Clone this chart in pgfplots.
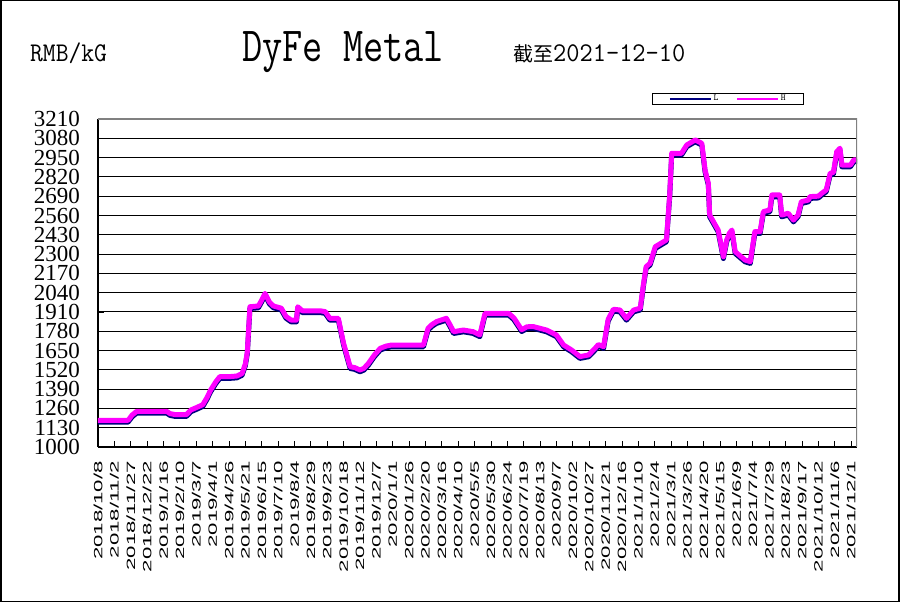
\documentclass[border=0pt]{standalone}
\usepackage{fontspec}
\usepackage{graphicx}
\usepackage{pgfplots}
\usepackage{pgfplotstable}
\pgfplotsset{compat=1.18}
\setmainfont{Liberation Serif}
\newfontfamily\labfont[FakeStretch=1.85]{Liberation Sans}
\newfontfamily\cjk{Noto Sans CJK SC}
\definecolor{lnavy}{RGB}{0,0,128}
\definecolor{hmag}{RGB}{255,0,255}

% day (0 = 2018/10/8), L, H
\pgfplotstableread{
d L H
0 1168 1180
46 1168 1180
52 1203 1215
59 1228 1240
105 1228 1240
110 1213 1225
118 1206 1218
135 1206 1218
142 1238 1250
150 1253 1265
160 1273 1285
166 1318 1330
172 1372 1384
180 1428 1440
186 1462 1474
200 1462 1474
212 1466 1478
220 1483 1495
225 1548 1560
228 1628 1640
232 1933 1945
245 1938 1950
250 1978 1990
255 2023 2035
262 1963 1975
268 1938 1950
280 1923 1935
287 1868 1880
295 1843 1855
303 1843 1855
305 1933 1945
312 1906 1918
339 1906 1918
347 1900 1912
354 1855 1867
367 1855 1867
375 1687 1699
385 1529 1541
392 1523 1535
400 1507 1519
406 1518 1530
413 1552 1564
422 1608 1620
431 1653 1665
440 1668 1680
448 1675 1687
497 1675 1687
504 1788 1800
510 1813 1825
517 1833 1845
532 1855 1867
538 1808 1820
543 1765 1777
558 1776 1788
573 1765 1777
583 1743 1755
591 1889 1901
627 1889 1901
635 1858 1870
647 1778 1790
655 1798 1810
665 1799 1811
685 1776 1788
700 1743 1755
711 1675 1687
723 1642 1654
736 1597 1609
749 1608 1620
758 1648 1660
764 1678 1690
772 1664 1676
779 1848 1860
787 1916 1928
797 1911 1923
807 1855 1867
818 1911 1923
828 1923 1935
833 2088 2100
837 2203 2215
843 2226 2238
851 2338 2350
868 2383 2395
873 2688 2700
876 2967 2979
891 2967 2979
899 3023 3035
912 3057 3069
922 3034 3046
927 2854 2866
932 2765 2777
934 2551 2563
947 2450 2462
955 2270 2282
960 2383 2395
964 2428 2440
968 2450 2462
973 2304 2316
988 2248 2260
996 2237 2249
1003 2439 2451
1011 2439 2451
1016 2574 2586
1026 2585 2597
1029 2686 2698
1041 2686 2698
1044 2551 2563
1054 2563 2575
1062 2517 2529
1069 2551 2563
1074 2641 2653
1085 2652 2664
1087 2675 2687
1100 2678 2690
1105 2697 2709
1112 2720 2732
1118 2832 2844
1123 2838 2850
1128 2978 2990
1133 3001 3013
1136 2888 2900
1149 2888 2900
1154 2922 2934
1159 2922 2934
}\dyfe

\begin{document}
\begin{tikzpicture}
\useasboundingbox (0,0) rectangle (901bp,603bp);
\draw[black, line width=1.5bp] (0.75bp,1.5bp) rectangle (899bp,602.25bp);

\node[anchor=base west, inner sep=0pt] at (30bp,541bp)
  {\scalebox{0.92}[1]{\ttfamily\fontsize{27bp}{27bp}\selectfont RMB/kG}};
\node[anchor=base west, inner sep=0pt] at (242bp,541bp)
  {\scalebox{0.80}[1]{\ttfamily\fontsize{49bp}{49bp}\selectfont DyFe Metal}};
\node[anchor=base west, inner sep=0pt] at (513bp,541bp)
  {{\cjk\fontsize{20bp}{20bp}\selectfont 截至}\scalebox{0.95}[1]{\ttfamily\fontsize{27bp}{27bp}\selectfont 2021-12-10}};

\begin{axis}[
  at={(98bp,156bp)}, anchor=south west,
  width=759bp, height=328bp, scale only axis,
  xmin=0, xmax=1159, ymin=1000, ymax=3210,
  axis lines*=left,
  axis line style={black, line width=1.2bp, -},
  ytick={1000,1130,1260,1390,1520,1650,1780,1910,2040,2170,2300,2430,2560,2690,2820,2950,3080,3210},
  ymajorgrids,
  grid style={black, line width=1bp},
  xtick={0,25,...,1150},
  xticklabels={2018/10/8,2018/11/2,2018/11/27,2018/12/22,2019/1/16,2019/2/10,2019/3/7,2019/4/1,2019/4/26,2019/5/21,2019/6/15,2019/7/10,2019/8/4,2019/8/29,2019/9/23,2019/10/18,2019/11/12,2019/12/7,2020/1/1,2020/1/26,2020/2/20,2020/3/16,2020/4/10,2020/5/5,2020/5/30,2020/6/24,2020/7/19,2020/8/13,2020/9/7,2020/10/2,2020/10/27,2020/11/21,2020/12/16,2021/1/10,2021/2/4,2021/3/1,2021/3/26,2021/4/20,2021/5/15,2021/6/9,2021/7/4,2021/7/29,2021/8/23,2021/9/17,2021/10/12,2021/11/6,2021/12/1},
  tick align=inside,
  major tick length=6bp,
  tick style={black, line width=0.8bp},
  x tick label style={font=\labfont\fontsize{12bp}{12bp}\selectfont, rotate=90, anchor=east, inner sep=0pt},
  xticklabel shift=14bp,
  y tick label style={font=\fontsize{23bp}{23bp}\selectfont, inner sep=0pt},
  yticklabel shift=18bp,
  /pgf/number format/assume math mode=true,
  /pgf/number format/1000 sep={},
  legend style={at={(rel axis cs:0.730,1.0427)}, anchor=south west,
    draw=black, line width=1bp, fill=white,
    font=\ttfamily\fontsize{9bp}{9bp}\selectfont,
    inner xsep=16bp, inner ysep=0.5bp, nodes={inner sep=1.5bp},
    /tikz/every even column/.append style={column sep=16bp}},
  legend columns=2,
  legend image code/.code={\draw[#1, line width=2.5bp] (0bp,0bp) -- (41bp,0bp);},
]
\addplot[lnavy, line width=5bp, line join=round] table[x=d, y=L] {\dyfe};
\addplot[hmag, line width=5bp, line join=round] table[x=d, y=H] {\dyfe};
\legend{L,H}
\draw[gray, line width=2bp] (rel axis cs:0,1) -- (rel axis cs:1,1) -- (rel axis cs:1,0);
\end{axis}
\end{tikzpicture}
\end{document}
